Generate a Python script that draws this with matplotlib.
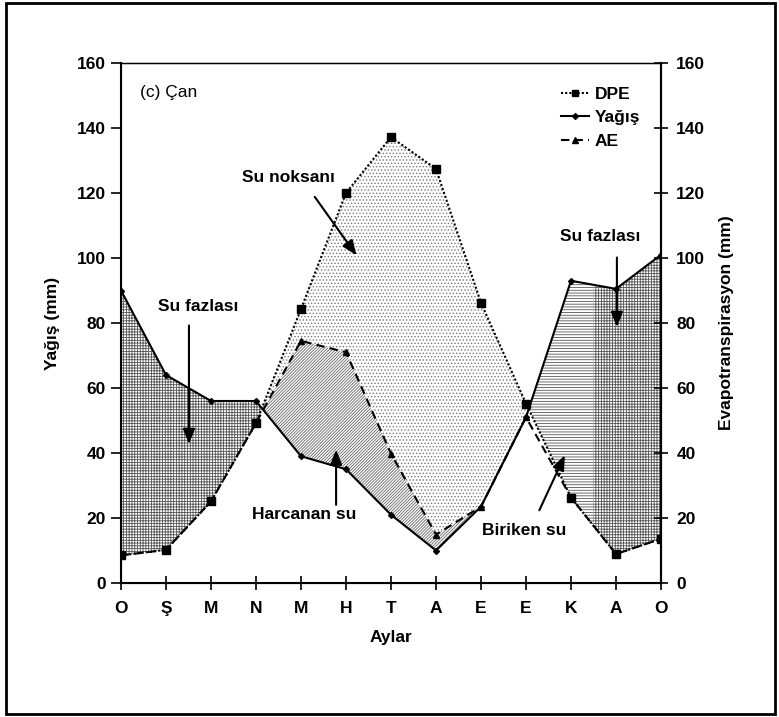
import numpy as np
import matplotlib
matplotlib.use('Agg')
import matplotlib.pyplot as plt
from matplotlib.lines import Line2D
from matplotlib.patches import Rectangle

plt.rcParams['font.family'] = ['Liberation Sans', 'DejaVu Sans']
plt.rcParams['hatch.linewidth'] = 0.6

# Monthly water balance values (mm)
months = ['O', 'Ş', 'M', 'N', 'M', 'H', 'T', 'A', 'E', 'E', 'K', 'A', 'O']
yagis = [90, 64, 56, 56, 39, 35, 21, 10, 23.5, 51, 93, 90.5, 101]
dpe = [8.5, 10.2, 25.1, 49.2, 84.3, 120, 137.2, 127.4, 86.2, 55.2, 26.3, 8.9, 13.6]
ae = [8.5, 10.2, 25.1, 49.2, 74.5, 71, 39.8, 14.9, 23.5, 51, 26.3, 8.9, 13.6]

idx = np.arange(len(months))

fig = plt.figure(figsize=(7.79, 7.17), dpi=100)
ax = fig.add_axes([121 / 779, 1 - 583 / 717, 540 / 779, 520 / 717])

# fine grid used only to shade the areas between the curves
xs = np.linspace(0, 12, 2401)
P = np.interp(xs, idx, yagis)
D = np.interp(xs, idx, dpe)
A = np.interp(xs, idx, ae)

hc = '#555555'
# su fazlasi (left)
ax.fill_between(xs, D, P, where=(P >= D) & (xs < 6), interpolate=True,
                facecolor='white', edgecolor=hc, hatch='++++++', linewidth=0, zorder=1)
# harcanan su
ax.fill_between(xs, P, A, where=(A >= P) & (xs > 3) & (xs < 9), interpolate=True,
                facecolor='white', edgecolor='#666666', hatch='/' * 11, linewidth=0, zorder=1)
# su noksani
ax.fill_between(xs, np.maximum(A, P), D, where=(D >= np.maximum(A, P)) & (xs > 3) & (xs < 10),
                interpolate=True, facecolor='white', edgecolor='#777777', hatch='.....',
                linewidth=0, zorder=1)
# biriken su
ax.fill_between(xs, D, P, where=(P >= D) & (xs > 9) & (xs <= 10.5), interpolate=True,
                facecolor='white', edgecolor=hc, hatch='------', linewidth=0, zorder=1)
# su fazlasi (right)
ax.fill_between(xs, D, P, where=(P >= D) & (xs >= 10.5), interpolate=True,
                facecolor='white', edgecolor=hc, hatch='++++++', linewidth=0, zorder=1)

ax.plot(idx, dpe, color='black', linestyle=(0, (1, 1)), linewidth=1.5,
        marker='s', markersize=5.5, zorder=4)
ax.plot(idx, ae, color='black', linestyle=(0, (4, 2.5)), linewidth=1.5,
        marker='^', markersize=5, zorder=3)
ax.plot(idx, yagis, color='black', linestyle='-', linewidth=1.5,
        marker='D', markersize=3, zorder=5)

ax.set_xlim(0, 12)
ax.set_ylim(0, 160)
ax.set_xticks(idx)
ax.set_xticklabels(months, fontsize=12.5, fontweight='bold')
ax.set_yticks(np.arange(0, 161, 20))
ax.set_yticklabels([str(v) for v in range(0, 161, 20)], fontsize=12.5, fontweight='bold')
ax.tick_params(axis='x', direction='inout', length=10, width=1.2, pad=8)
ax.tick_params(axis='y', direction='out', length=7, width=1.2, pad=4)
for s in ax.spines.values():
    s.set_linewidth(1.5)
ax.spines['top'].set_linewidth(1.0)
ax.set_xlabel('Aylar', fontsize=12.5, fontweight='bold', labelpad=10)
ax.set_ylabel('Yağış (mm)', fontsize=12.5, fontweight='bold', labelpad=12)

ax2 = ax.twinx()
ax2.set_ylim(0, 160)
ax2.set_yticks(np.arange(0, 161, 20))
ax2.set_yticklabels([str(v) for v in range(0, 161, 20)], fontsize=12.5, fontweight='bold')
ax2.tick_params(axis='y', direction='inout', length=10, width=1.2, pad=6)
ax2.spines['right'].set_linewidth(1.5)
ax2.set_ylabel('Evapotranspirasyon (mm)', fontsize=12.5, fontweight='bold', labelpad=10)

ax.text(0.42, 150.8, '(c) Çan', fontsize=12.5, va='center', ha='left')

# annotations
def label(txt, tx, ty, x0, y0, x1, y1):
    ax.text(tx, ty, txt, fontsize=12.5, fontweight='bold', ha='center', va='center', zorder=6)
    ax.annotate('', xy=(x1, y1), xytext=(x0, y0),
                arrowprops=dict(arrowstyle='-|>,head_length=0.5,head_width=0.2',
                                color='black', lw=1.5, mutation_scale=18),
                zorder=6)

label('Su noksanı', 3.71, 124.7, 4.27, 119.5, 5.27, 100.1)
label('Su fazlası', 1.71, 85, 1.51, 80.1, 1.51, 41.9)
label('Harcanan su', 4.07, 21, 4.78, 23.2, 4.78, 41.9)
label('Su fazlası', 10.64, 106.6, 11.02, 101, 11.02, 77.9)
label('Biriken su', 8.96, 16.1, 9.27, 21.6, 9.89, 40.1)

handles = [
    Line2D([], [], color='black', linestyle=(0, (1, 1)), lw=1.5, marker='s', markersize=5),
    Line2D([], [], color='black', linestyle='-', lw=1.5, marker='D', markersize=3),
    Line2D([], [], color='black', linestyle=(0, (4, 2.5)), lw=1.5, marker='^', markersize=5),
]
ax.legend(handles, ['DPE', 'Yağış', 'AE'], loc='upper right', bbox_to_anchor=(0.99, 0.985),
          frameon=False, handlelength=1.6, handletextpad=0.3, labelspacing=0.5,
          prop={'size': 12.5, 'weight': 'bold'})

# outer frame
fig.patches.append(Rectangle((6 / 779, 3 / 717), 769 / 779, 711 / 717, transform=fig.transFigure,
                             fill=False, edgecolor='black', linewidth=2))

fig.savefig('out.png', dpi=100)
